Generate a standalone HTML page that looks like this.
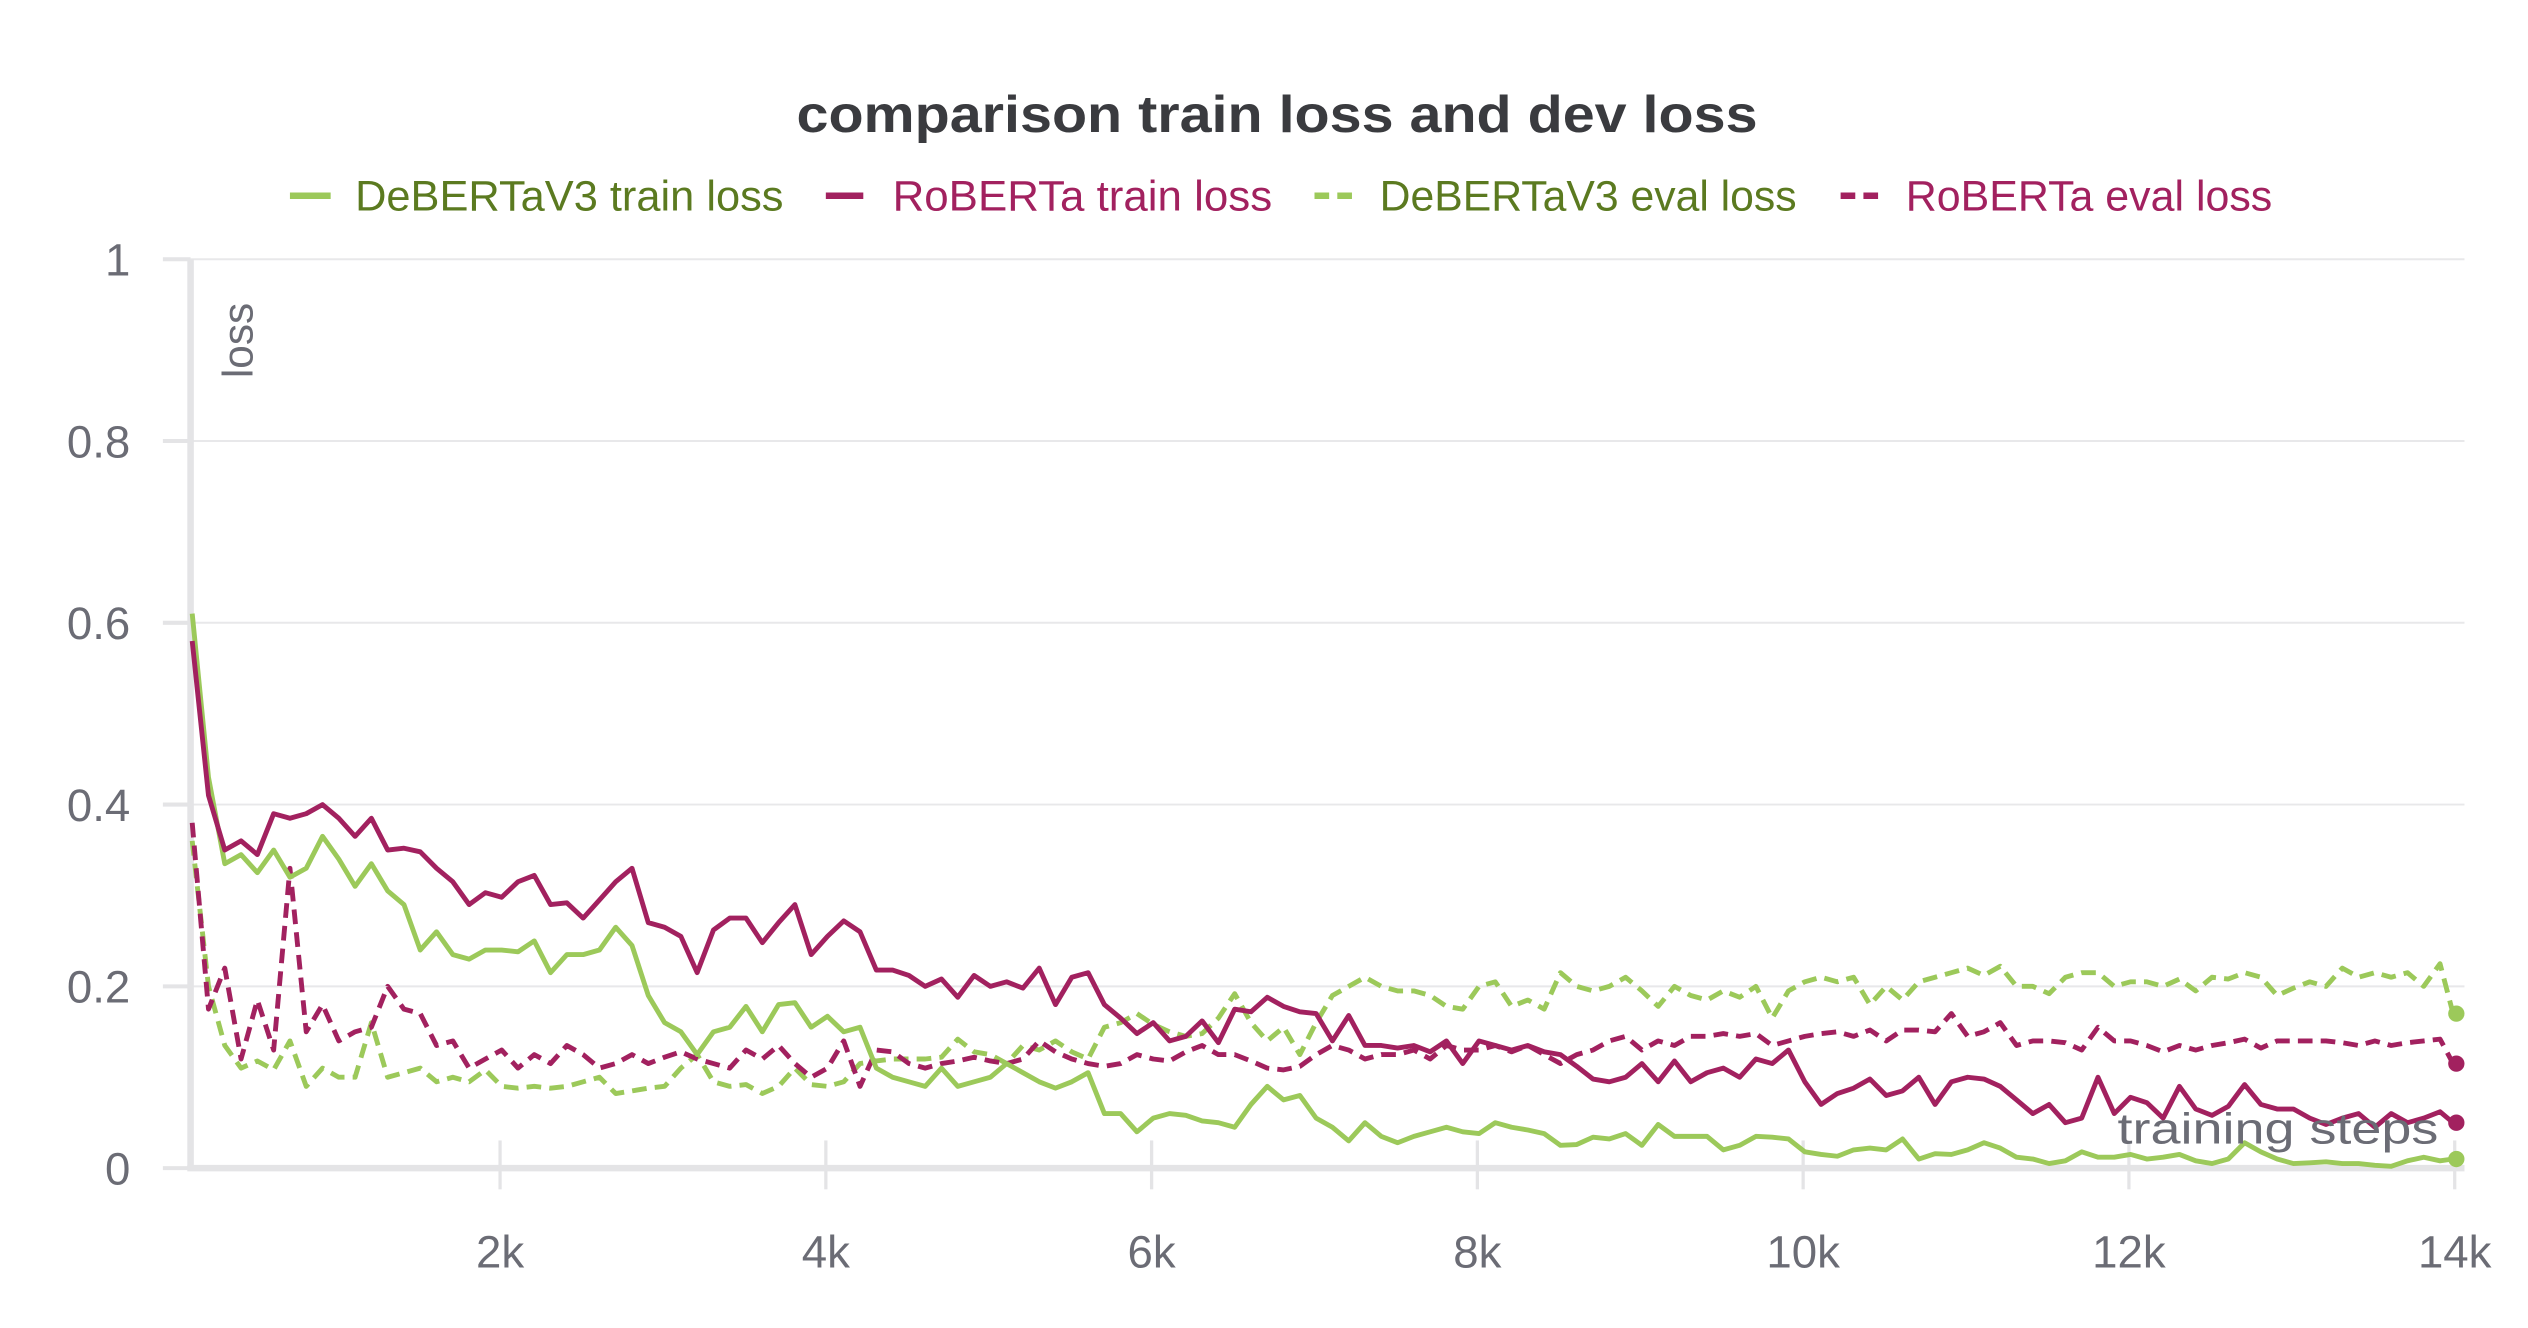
<!DOCTYPE html>
<html><head><meta charset="utf-8"><style>
html,body{margin:0;padding:0;background:#fff;}
svg{display:block;font-family:"Liberation Sans",sans-serif;}
</style></head><body>
<svg id="chart" width="2528" height="1328" viewBox="0 0 1552 815" xmlns="http://www.w3.org/2000/svg">
<text x="784" y="81" text-anchor="middle" font-size="32" font-weight="bold" fill="#3a3b3f" textLength="590" lengthAdjust="spacingAndGlyphs">comparison train loss and dev loss</text>
<g font-size="26">
 <g><line x1="178" y1="120" x2="203" y2="120" stroke="#9cc95a" stroke-width="4"/><text x="218" y="129" fill="#5b7a20" textLength="263" lengthAdjust="spacingAndGlyphs">DeBERTaV3 train loss</text></g>
 <g><line x1="507" y1="120" x2="530" y2="120" stroke="#a2215f" stroke-width="4"/><text x="548" y="129" fill="#a2215f" textLength="233" lengthAdjust="spacingAndGlyphs">RoBERTa train loss</text></g>
 <g><line x1="807" y1="120" x2="832" y2="120" stroke="#9cc95a" stroke-width="4" stroke-dasharray="9,5"/><text x="847" y="129" fill="#5b7a20" textLength="256" lengthAdjust="spacingAndGlyphs">DeBERTaV3 eval loss</text></g>
 <g><line x1="1130" y1="120" x2="1155" y2="120" stroke="#a2215f" stroke-width="4" stroke-dasharray="9,5"/><text x="1170" y="129" fill="#a2215f" textLength="225" lengthAdjust="spacingAndGlyphs">RoBERTa eval loss</text></g>
</g>
<g id="grid"></g>
<g id="axes"></g>
<g id="series"></g>
<text transform="translate(155,232) rotate(-90)" font-size="26" fill="#6b6c75">loss</text>
<text x="1497" y="702" text-anchor="end" font-size="27" fill="#6b6c75" textLength="197" lengthAdjust="spacingAndGlyphs">training steps</text>
</svg>
<script>
const yTicks=[0,0.2,0.4,0.6,0.8,1];
const yTickLabels=["0","0.2","0.4","0.6","0.8","1"];
const xTicks=[2000,4000,6000,8000,10000,12000,14000];
const xTickLabels=["2k","4k","6k","8k","10k","12k","14k"];
const debertaTrain=[0.61,0.43,0.335,0.345,0.325,0.35,0.32,0.33,0.365,0.34,0.31,0.335,0.305,0.29,0.24,0.26,0.235,0.23,0.24,0.24,0.238,0.25,0.215,0.235,0.235,0.24,0.265,0.245,0.19,0.16,0.15,0.125,0.15,0.155,0.178,0.15,0.18,0.182,0.155,0.167,0.15,0.155,0.11,0.1,0.095,0.09,0.11,0.09,0.095,0.1,0.115,0.105,0.095,0.088,0.095,0.105,0.06,0.06,0.04,0.055,0.06,0.058,0.052,0.05,0.045,0.07,0.09,0.075,0.08,0.055,0.045,0.03,0.05,0.035,0.028,0.035,0.04,0.045,0.04,0.038,0.05,0.045,0.042,0.038,0.025,0.026,0.034,0.032,0.038,0.025,0.048,0.035,0.035,0.035,0.02,0.025,0.035,0.034,0.032,0.018,0.015,0.013,0.02,0.022,0.02,0.032,0.01,0.016,0.015,0.02,0.028,0.022,0.012,0.01,0.005,0.008,0.018,0.012,0.012,0.015,0.01,0.012,0.015,0.008,0.005,0.01,0.028,0.018,0.01,0.005,0.006,0.007,0.005,0.005,0.003,0.002,0.008,0.012,0.008,0.01];
const robertaTrain=[0.58,0.41,0.35,0.36,0.345,0.39,0.385,0.39,0.4,0.385,0.365,0.385,0.35,0.352,0.348,0.33,0.315,0.29,0.303,0.298,0.315,0.322,0.29,0.292,0.275,0.295,0.315,0.33,0.27,0.265,0.255,0.215,0.262,0.275,0.275,0.248,0.27,0.29,0.235,0.255,0.272,0.26,0.218,0.218,0.212,0.2,0.208,0.188,0.212,0.2,0.205,0.198,0.22,0.18,0.21,0.215,0.18,0.165,0.148,0.16,0.14,0.145,0.162,0.138,0.175,0.172,0.188,0.178,0.172,0.17,0.14,0.168,0.135,0.135,0.132,0.135,0.128,0.14,0.115,0.14,0.135,0.13,0.135,0.128,0.125,0.112,0.098,0.095,0.1,0.115,0.095,0.118,0.095,0.105,0.11,0.1,0.12,0.115,0.13,0.095,0.07,0.082,0.088,0.098,0.08,0.085,0.1,0.07,0.095,0.1,0.098,0.09,0.075,0.06,0.07,0.05,0.055,0.1,0.06,0.078,0.072,0.055,0.09,0.065,0.058,0.068,0.092,0.07,0.065,0.065,0.055,0.048,0.055,0.06,0.045,0.06,0.05,0.055,0.062,0.05];
const debertaEval=[0.36,0.2,0.135,0.11,0.118,0.108,0.14,0.09,0.11,0.1,0.1,0.16,0.1,0.105,0.11,0.095,0.1,0.095,0.108,0.09,0.088,0.09,0.088,0.09,0.095,0.1,0.082,0.085,0.088,0.09,0.11,0.125,0.095,0.09,0.092,0.082,0.09,0.11,0.092,0.09,0.095,0.115,0.118,0.12,0.12,0.12,0.122,0.142,0.128,0.125,0.115,0.135,0.13,0.14,0.128,0.12,0.155,0.16,0.17,0.158,0.15,0.145,0.148,0.165,0.192,0.16,0.14,0.155,0.125,0.16,0.19,0.2,0.21,0.2,0.195,0.195,0.19,0.178,0.175,0.2,0.205,0.178,0.185,0.175,0.215,0.2,0.195,0.2,0.21,0.195,0.178,0.2,0.19,0.185,0.195,0.188,0.2,0.165,0.195,0.205,0.21,0.205,0.21,0.18,0.2,0.185,0.205,0.21,0.215,0.22,0.212,0.222,0.2,0.2,0.192,0.21,0.215,0.215,0.2,0.205,0.205,0.2,0.208,0.195,0.21,0.208,0.215,0.21,0.19,0.198,0.205,0.2,0.22,0.21,0.215,0.21,0.215,0.2,0.225,0.17];
const robertaEval=[0.38,0.175,0.22,0.12,0.185,0.13,0.33,0.15,0.18,0.14,0.15,0.155,0.2,0.175,0.17,0.135,0.14,0.11,0.12,0.13,0.11,0.125,0.115,0.135,0.125,0.11,0.115,0.125,0.115,0.122,0.128,0.12,0.115,0.11,0.13,0.12,0.135,0.115,0.1,0.11,0.14,0.09,0.13,0.128,0.115,0.11,0.115,0.118,0.122,0.118,0.115,0.12,0.14,0.128,0.12,0.115,0.112,0.115,0.125,0.12,0.118,0.128,0.135,0.125,0.125,0.118,0.11,0.108,0.112,0.125,0.135,0.13,0.12,0.125,0.125,0.13,0.12,0.135,0.13,0.13,0.135,0.128,0.135,0.125,0.115,0.125,0.13,0.14,0.145,0.13,0.14,0.135,0.145,0.145,0.148,0.145,0.148,0.135,0.14,0.145,0.148,0.15,0.145,0.152,0.14,0.152,0.152,0.15,0.17,0.145,0.15,0.16,0.135,0.14,0.14,0.138,0.13,0.155,0.14,0.14,0.135,0.128,0.135,0.13,0.135,0.138,0.142,0.132,0.14,0.14,0.14,0.14,0.138,0.135,0.14,0.135,0.138,0.14,0.142,0.115];

const NS="http://www.w3.org/2000/svg";
const xs=s=>107+s*0.1;
const ys=v=>717-v*558;
function stepAt(i,n){return i<n-1?110+100*i:13990;}
function mk(tag,attrs,parent){const e=document.createElementNS(NS,tag);for(const k in attrs)e.setAttribute(k,attrs[k]);parent.appendChild(e);return e;}
const grid=document.getElementById('grid'),axes=document.getElementById('axes'),ser=document.getElementById('series');
yTicks.forEach((v,i)=>{
 if(v>0){const g=mk('line',{x1:117,x2:1513,y1:ys(v),y2:ys(v),stroke:'#e8e8ea','stroke-width':1.2},grid);
 
 }
 const t=mk('line',{x1:100,x2:117,y1:ys(v),y2:ys(v),stroke:'#e4e4e6','stroke-width':2.5},axes);
 
 
 const l=mk('text',{x:80,y:ys(v)+10,'text-anchor':'end','font-size':28,fill:'#6b6c75'},axes);
 l.textContent=yTickLabels[i];
 
 
});
xTicks.forEach((s,i)=>{
 const t=mk('line',{x1:xs(s),x2:xs(s),y1:700,y2:730,stroke:'#e4e4e6','stroke-width':2},axes);
 
 
 const l=mk('text',{x:xs(s),y:778,'text-anchor':'middle','font-size':28,fill:'#6b6c75'},axes);
 l.textContent=xTickLabels[i];
 
 
});
const ya=mk('line',{x1:117,x2:117,y1:159,y2:718,stroke:'#e4e4e6','stroke-width':4},axes);


const xa=mk('line',{x1:115,x2:1513,y1:717,y2:717,stroke:'#e4e4e6','stroke-width':4},axes);


function draw(vals,color,dash,name){
 const n=vals.length;
 const d=vals.map((v,i)=>(i?'L':'M')+xs(stepAt(i,n)).toFixed(1)+','+ys(v).toFixed(1)).join(' ');
 const p=mk('path',{d:d,fill:'none',stroke:color,'stroke-width':3,'stroke-linejoin':'round'},ser);
 if(dash)p.setAttribute('stroke-dasharray','9,5');
 
 
 const c=mk('circle',{cx:xs(stepAt(n-1,n))+2,cy:ys(vals[n-1]),r:5,fill:color},ser);
 
 
}
draw(debertaEval,'#9cc95a',true,'deberta-eval-line');
draw(robertaEval,'#a2215f',true,'roberta-eval-line');
draw(debertaTrain,'#9cc95a',false,'deberta-train-line');
draw(robertaTrain,'#a2215f',false,'roberta-train-line');
</script>
</body></html>
